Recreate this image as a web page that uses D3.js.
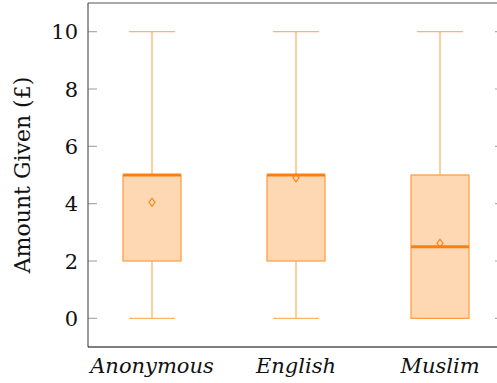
<!DOCTYPE html>
<meta charset="utf-8">
<div id="chart"></div>
<style>
body { margin: 0; background: #fff; }
text { font-family: 'DejaVu Serif', 'Liberation Serif', serif; }
</style>
<script src="https://d3js.org/d3.v7.min.js"></script>
<script>
var categories = ['Anonymous', 'English', 'Muslim'];
var lowWhisker = [0, 0, 0];
var q1 = [2, 2, 0];
var median = [5, 5, 2.5];
var q3 = [5, 5, 5];
var highWhisker = [10, 10, 10];
var means = [4.05, 4.9, 2.62];
var yTicks = [0, 2, 4, 6, 8, 10];

var w = 497, h = 383;
var mLeft = 88, mRight = 504, mTop = 3, mBottom = 347;

var svg = d3.select('#chart').append('svg')
  .attr('width', w).attr('height', h);

// category positions 1..3, axis padded the same on both sides
var x = d3.scaleLinear().domain([1 - 64/144, 3 + 64/144]).range([mLeft, mRight]);
var y = d3.scaleLinear().domain([-1, 11]).range([mBottom, mTop]);

var boxW = 58, capW = 46;
var data = categories.map(function(c, i) {
  return { name: c, pos: i + 1, lo: lowWhisker[i], q1: q1[i], med: median[i],
           q3: q3[i], hi: highWhisker[i], mean: means[i] };
});

// y ticks (inside on both sides)
var ticks = svg.append('g');
yTicks.forEach(function(t) {
  ticks.append('line').attr('x1', mLeft).attr('x2', mLeft + 9)
    .attr('y1', y(t)).attr('y2', y(t)).attr('stroke', '#aaa').attr('stroke-width', 1.2);
  ticks.append('line').attr('x1', mRight).attr('x2', mRight - 9)
    .attr('y1', y(t)).attr('y2', y(t)).attr('stroke', '#aaa').attr('stroke-width', 1.2);
  ticks.append('text').attr('x', 78).attr('y', y(t)).attr('dy', '0.36em')
    .attr('text-anchor', 'end').style('font-size', '21px').style('fill', '#111').text(t);
});

var g = svg.selectAll('.box').data(data).enter().append('g');

// whiskers
g.append('line').attr('x1', d => x(d.pos)).attr('x2', d => x(d.pos))
  .attr('y1', d => y(d.hi)).attr('y2', d => y(d.q3))
  .attr('stroke', '#ffb36b').attr('stroke-width', 1.3);
g.append('line').attr('x1', d => x(d.pos)).attr('x2', d => x(d.pos))
  .attr('y1', d => y(d.q1)).attr('y2', d => y(d.lo))
  .attr('stroke', '#ffb36b').attr('stroke-width', 1.3);
g.append('line').attr('x1', d => x(d.pos) - capW/2).attr('x2', d => x(d.pos) + capW/2)
  .attr('y1', d => y(d.hi)).attr('y2', d => y(d.hi))
  .attr('stroke', '#ffb36b').attr('stroke-width', 1.3);
g.append('line').attr('x1', d => x(d.pos) - capW/2).attr('x2', d => x(d.pos) + capW/2)
  .attr('y1', d => y(d.lo)).attr('y2', d => y(d.lo))
  .attr('stroke', '#ffb36b').attr('stroke-width', 1.3);

// box
g.append('rect').attr('x', d => x(d.pos) - boxW/2).attr('width', boxW)
  .attr('y', d => y(d.q3)).attr('height', d => y(d.q1) - y(d.q3))
  .attr('fill', '#fed8b2').attr('stroke', '#ff9a3c').attr('stroke-width', 1.2);

// median
g.append('line').attr('x1', d => x(d.pos) - boxW/2).attr('x2', d => x(d.pos) + boxW/2)
  .attr('y1', d => y(d.med)).attr('y2', d => y(d.med))
  .attr('stroke', '#ff7f0e').attr('stroke-width', 3);

// mean marker
g.append('path')
  .attr('d', function(d) {
    var cx = x(d.pos), cy = y(d.mean);
    return 'M' + cx + ',' + (cy - 4) + 'L' + (cx + 3) + ',' + cy + 'L' + cx + ',' + (cy + 4) + 'L' + (cx - 3) + ',' + cy + 'Z';
  })
  .attr('fill', 'none').attr('stroke', '#ff7f0e').attr('stroke-width', 1.1);

// frame
svg.append('line').attr('x1', mLeft).attr('x2', mRight).attr('y1', mTop).attr('y2', mTop)
  .attr('stroke', '#555').attr('stroke-width', 1.2);
svg.append('line').attr('x1', mLeft).attr('x2', mLeft).attr('y1', mTop).attr('y2', mBottom)
  .attr('stroke', '#555').attr('stroke-width', 1.2);
svg.append('line').attr('x1', mRight).attr('x2', mRight).attr('y1', mTop).attr('y2', mBottom)
  .attr('stroke', '#555').attr('stroke-width', 1.2);
svg.append('line').attr('x1', mLeft).attr('x2', mRight).attr('y1', mBottom).attr('y2', mBottom)
  .attr('stroke', '#000').attr('stroke-width', 1.2);

// x labels
svg.selectAll('.xl').data(data).enter().append('text')
  .attr('x', d => x(d.pos)).attr('y', 373).attr('text-anchor', 'middle')
  .style('font-size', '21px').style('font-style', 'italic').style('fill', '#111')
  .text(d => d.name);

// y label
svg.append('text').attr('transform', 'translate(30,' + ((mTop + mBottom) / 2) + ') rotate(-90)')
  .attr('text-anchor', 'middle').style('font-size', '22px').style('fill', '#111')
  .text('Amount Given (£)');
</script>
